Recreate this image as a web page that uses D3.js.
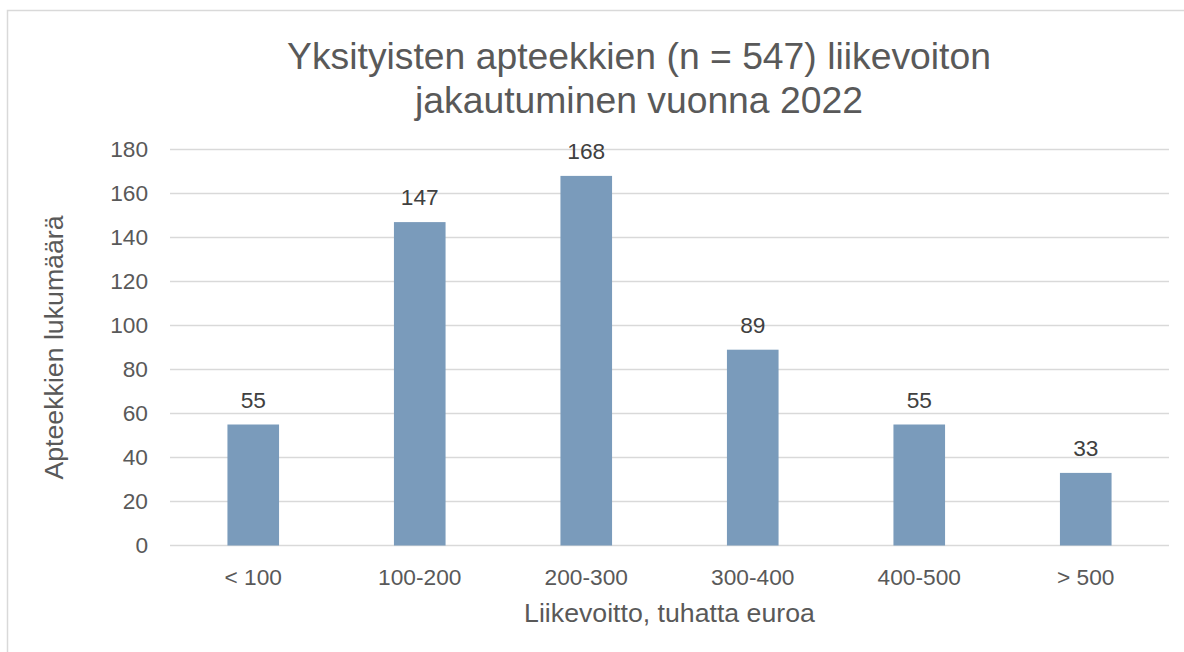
<!DOCTYPE html>
<html>
<head>
<meta charset="utf-8">
<script src="https://cdn.jsdelivr.net/npm/d3@7"></script>
<style>
  html, body { margin: 0; padding: 0; background: #fff; }
  svg { display: block; font-family: "Liberation Sans", Arial, sans-serif; }
</style>
</head>
<body>
<div id="chart"></div>
<script>
const CATEGORIES = ['< 100', '100-200', '200-300', '300-400', '400-500', '> 500'];
const COUNTS = [55, 147, 168, 89, 55, 33];
const Y_TICKS = [0, 20, 40, 60, 80, 100, 120, 140, 160, 180];
const TITLE_LINES = ['Yksityisten apteekkien (n = 547) liikevoiton', 'jakautuminen vuonna 2022'];
const X_TITLE = 'Liikevoitto, tuhatta euroa';
const Y_TITLE = 'Apteekkien lukumäärä';

const W = 1184, H = 652;
const MARGIN = { top: 149.5, right: 15, bottom: 106.5, left: 170 };
const BAR_COLOR = '#7a9bbb';
const GRID_COLOR = '#d9d9d9';
const TEXT_COLOR = '#595959';
const TICK_FONT = '22.7px';
const AXIS_FONT = '26.7px';
const TITLE_FONT = '37.3px';

const svg = d3.select('#chart').append('svg').attr('width', W).attr('height', H);

// outer chart border (runs off right/bottom like the source)
svg.append('rect')
  .attr('x', 7.5).attr('y', 10.5)
  .attr('width', W).attr('height', H)
  .attr('fill', 'none').attr('stroke', GRID_COLOR).attr('stroke-width', 1.5);

const innerW = W - MARGIN.left - MARGIN.right;
const innerH = H - MARGIN.top - MARGIN.bottom;

const x = d3.scaleBand().domain(CATEGORIES).range([0, innerW]).paddingInner(0.69).paddingOuter(0.345);
const y = d3.scaleLinear().domain([0, 180]).range([innerH, 0]);

const g = svg.append('g').attr('transform', `translate(${MARGIN.left},${MARGIN.top})`);

// gridlines
g.selectAll('.grid')
  .data(Y_TICKS)
  .join('line')
  .attr('x1', 0).attr('x2', innerW)
  .attr('y1', (d) => y(d)).attr('y2', (d) => y(d))
  .attr('stroke', GRID_COLOR).attr('stroke-width', 1.5);

// y tick labels
g.selectAll('.ytick')
  .data(Y_TICKS)
  .join('text')
  .attr('x', -22)
  .attr('y', (d) => y(d))
  .attr('dy', '0.35em')
  .attr('text-anchor', 'end')
  .attr('font-size', TICK_FONT)
  .attr('fill', TEXT_COLOR)
  .text((d) => d);

// bars
g.selectAll('.bar')
  .data(COUNTS)
  .join('rect')
  .attr('x', (_, i) => x(CATEGORIES[i]))
  .attr('y', (d) => y(d))
  .attr('width', x.bandwidth())
  .attr('height', (d) => innerH - y(d))
  .attr('fill', BAR_COLOR);

// value labels
g.selectAll('.val')
  .data(COUNTS)
  .join('text')
  .attr('x', (_, i) => x(CATEGORIES[i]) + x.bandwidth() / 2)
  .attr('y', (d) => y(d) - 17)
  .attr('text-anchor', 'middle')
  .attr('font-size', TICK_FONT)
  .attr('fill', '#404040')
  .text((d) => d);

// category labels
g.selectAll('.xtick')
  .data(CATEGORIES)
  .join('text')
  .attr('x', (d) => x(d) + x.bandwidth() / 2)
  .attr('y', innerH + 39)
  .attr('text-anchor', 'middle')
  .attr('font-size', TICK_FONT)
  .attr('fill', TEXT_COLOR)
  .text((d) => d);

// axis titles
svg.append('text')
  .attr('x', MARGIN.left + innerW / 2)
  .attr('y', 622)
  .attr('text-anchor', 'middle')
  .attr('font-size', AXIS_FONT)
  .attr('fill', TEXT_COLOR)
  .text(X_TITLE);

svg.append('text')
  .attr('transform', `translate(63,${MARGIN.top + innerH / 2}) rotate(-90)`)
  .attr('text-anchor', 'middle')
  .attr('font-size', AXIS_FONT)
  .attr('fill', TEXT_COLOR)
  .text(Y_TITLE);

// title
svg.append('text')
  .attr('text-anchor', 'middle')
  .attr('font-size', TITLE_FONT)
  .attr('fill', TEXT_COLOR)
  .selectAll('tspan')
  .data(TITLE_LINES)
  .join('tspan')
  .attr('x', 639)
  .attr('y', (_, i) => 68.5 + i * 44.5)
  .text((d) => d);
</script>
</body>
</html>
